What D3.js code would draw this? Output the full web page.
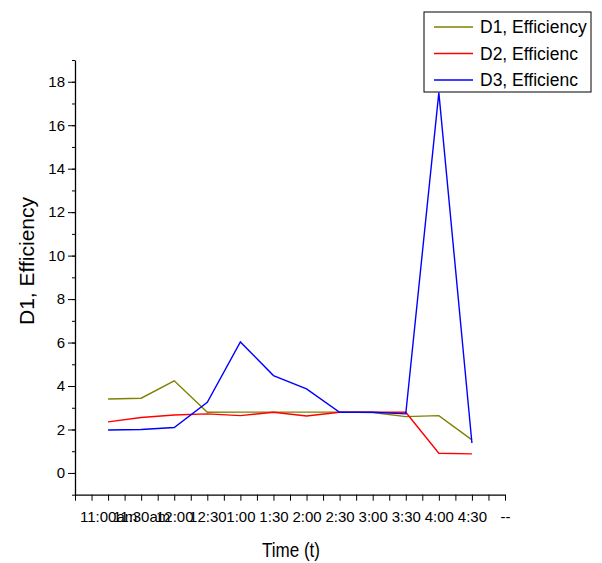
<!DOCTYPE html>
<html>
<head>
<meta charset="utf-8">
<script src="https://cdn.jsdelivr.net/npm/d3@7"></script>
<style>
  body { margin: 0; background: #fff; }
  text { font-family: "Liberation Sans", Arial, sans-serif; }
</style>
</head>
<body>
<div id="chart"></div>
<script>
const timeLabels = ["11:00am", "11:30am", "12:00", "12:30", "1:00", "1:30", "2:00", "2:30", "3:00", "3:30", "4:00", "4:30", "--"];
const d1Values = [3.4, 3.44, 4.24, 2.79, 2.8, 2.8, 2.8, 2.8, 2.78, 2.59, 2.64, 1.52];
const d2Values = [2.35, 2.55, 2.67, 2.72, 2.64, 2.79, 2.62, 2.79, 2.79, 2.79, 0.91, 0.88];
const d3Values = [1.98, 2.0, 2.09, 3.25, 6.03, 4.48, 3.87, 2.79, 2.79, 2.72, 17.5, 1.38];
const seriesNames = ["D1, Efficiency", "D2, Efficienc", "D3, Efficienc"];
const seriesColors = ["#808000", "#ff0000", "#0000ff"];
const yTicks = [0, 2, 4, 6, 8, 10, 12, 14, 16, 18];

const width = 602, height = 563;
const svg = d3.select("#chart").append("svg")
  .attr("width", width)
  .attr("height", height);

const x = d3.scaleLinear().domain([-1, 12]).range([75, 505]);
const y = d3.scaleLinear().domain([-1, 19]).range([494.7, 60]);

// minor ticks y
svg.append("g")
  .attr("transform", "translate(75,0)")
  .call(d3.axisLeft(y).tickValues(d3.range(-1, 20, 1)).tickSize(3).tickFormat(""))
  .call(g => g.select(".domain").remove());

svg.append("g")
  .attr("transform", "translate(75,0)")
  .call(d3.axisLeft(y).tickValues(yTicks).tickSize(7).tickSizeOuter(0).tickPadding(3))
  .call(g => g.select(".domain").attr("stroke-width", 1.3))
  .call(g => g.selectAll("text").style("font-size", "15px").attr("fill", "#000"));

// x axis
svg.append("g")
  .attr("transform", "translate(0,494.7)")
  .call(d3.axisBottom(x).tickValues(d3.range(-1, 12.01, 0.5)).tickSize(6).tickSizeOuter(0).tickFormat(""))
  .call(g => g.select(".domain").attr("stroke-width", 1.3));

svg.append("g")
  .attr("transform", "translate(0,494.7)")
  .call(d3.axisBottom(x).tickValues(d3.range(0, 13)).tickSize(0).tickPadding(16.5)
    .tickFormat(i => timeLabels[i]))
  .call(g => g.select(".domain").remove())
  .call(g => g.selectAll("text").style("font-size", "15px").attr("fill", "#000"));

const line = d3.line()
  .x((d, i) => x(i))
  .y(d => y(d));

[d1Values, d2Values, d3Values].forEach((vals, k) => {
  svg.append("path")
    .datum(vals)
    .attr("fill", "none")
    .attr("stroke", seriesColors[k])
    .attr("stroke-width", 1.4)
    .attr("d", line);
});

// legend
const legend = svg.append("g").attr("transform", "translate(424,12)");
legend.append("rect")
  .attr("width", 167).attr("height", 80)
  .attr("fill", "#fff").attr("stroke", "#000").attr("stroke-width", 1);
seriesNames.forEach((name, i) => {
  const yy = 15 + i * 26.5;
  legend.append("line")
    .attr("x1", 10).attr("x2", 49).attr("y1", yy).attr("y2", yy)
    .attr("stroke", seriesColors[i]).attr("stroke-width", 1.5);
  legend.append("text")
    .attr("x", 56).attr("y", yy + 6)
    .style("font-size", "17.5px")
    .text(name);
});

svg.append("text")
  .attr("x", 291).attr("y", 557)
  .attr("text-anchor", "middle")
  .attr("textLength", 58)
  .attr("lengthAdjust", "spacingAndGlyphs")
  .style("font-size", "20px")
  .text("Time (t)");

svg.append("text")
  .attr("transform", "translate(34,261) rotate(-90)")
  .attr("text-anchor", "middle")
  .style("font-size", "21px")
  .text("D1, Efficiency");
</script>
</body>
</html>
